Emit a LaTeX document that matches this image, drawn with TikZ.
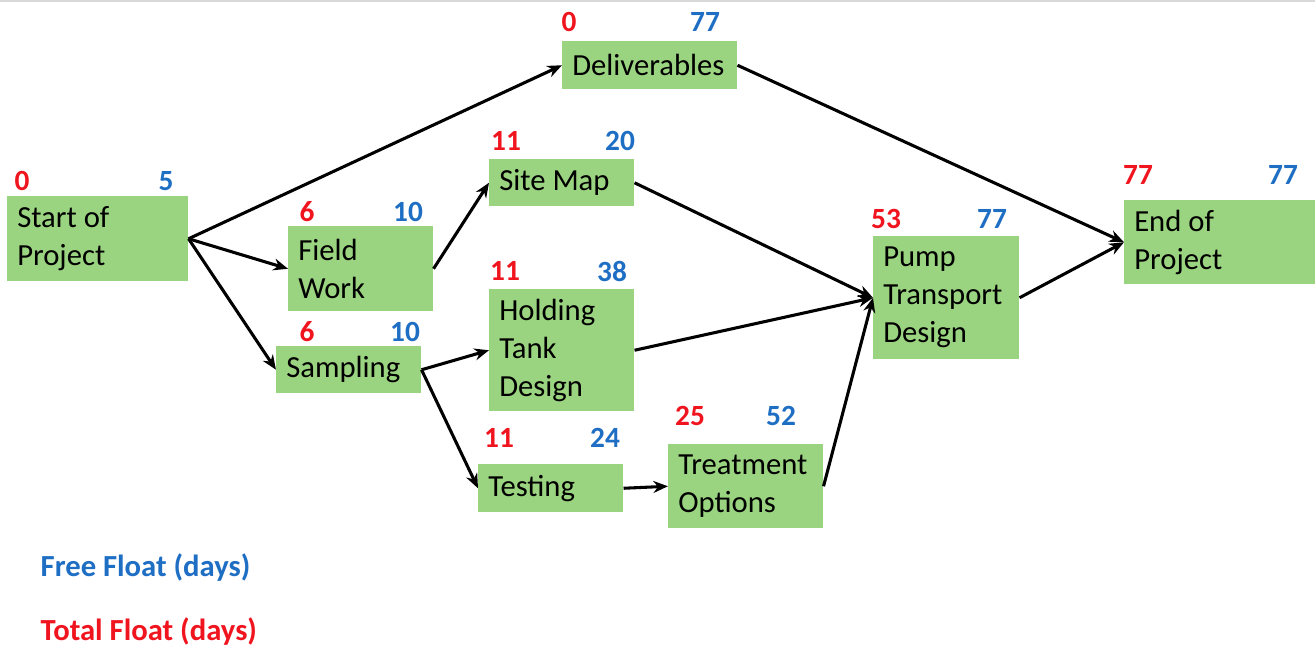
\documentclass[tikz,border=0pt]{standalone}
\usepackage{fontspec}
\setmainfont{Carlito}
\usetikzlibrary{arrows.meta}

\definecolor{boxgreen}{RGB}{155,212,128}
\definecolor{tfred}{RGB}{240,20,30}
\definecolor{ffblue}{RGB}{30,110,196}

\tikzset{
  task/.style={rectangle, fill=boxgreen, anchor=north west, align=flush left,
    inner xsep=7.5pt, inner ysep=0pt,
    font=\fontsize{23}{28.5}\selectfont},
  tf/.style={text=tfred, font=\fontsize{22}{24}\selectfont\bfseries},
  ff/.style={text=ffblue, font=\fontsize{22}{24}\selectfont\bfseries},
  legend/.style={anchor=west, font=\fontsize{23}{26}\selectfont\bfseries},
  arc/.style={-{Stealth[length=11pt,width=9pt]}, line width=2.3pt}
}

\begin{document}
\begin{tikzpicture}[x=0.75pt, y=-0.75pt]
  \useasboundingbox (0,0) rectangle (1315,648);
  \draw[black!15, line width=2pt] (0,1) -- (1315,1);

  % Attivita
  \node[task, text width=120.75pt, minimum height=63.75pt] (start) at (7,196) {Start of\\Project};
  \node[task, text width=93.75pt, minimum height=63.75pt] (field) at (288,226) {Field\\Work};
  \node[task, text width=93.75pt, minimum height=35.25pt] (samp) at (276,346) {Sampling};
  \node[task, text width=116.25pt, minimum height=36pt] (deliv) at (562,41) {Deliverables};
  \node[task, text width=93.75pt, minimum height=35.25pt] (site) at (489,159) {Site Map};
  \node[task, text width=93.75pt, minimum height=91.5pt] (hold) at (489,289) {Holding\\Tank\\Design};
  \node[task, text width=93.75pt, minimum height=36pt] (test) at (478,464) {Testing};
  \node[task, text width=101.25pt, minimum height=63pt] (treat) at (668,444) {Treatment\\Options};
  \node[task, text width=94.5pt, minimum height=92.25pt] (pump) at (873,236) {Pump\\Transport\\Design};
  \node[task, text width=128.25pt, minimum height=63pt] (end) at (1124,200) {End of\\Project};

  % Float
  \node[tf] (startTF) at (22,181) {0};
  \node[ff] (startFF) at (166,181) {5};
  \node[tf] (fieldTF) at (307,212) {6};
  \node[ff] (fieldFF) at (408,212) {10};
  \node[tf] (sampTF) at (307,332) {6};
  \node[ff] (sampFF) at (405,332) {10};
  \node[tf] (delivTF) at (569,22) {0};
  \node[ff] (delivFF) at (705,22) {77};
  \node[tf] (siteTF) at (506,141) {11};
  \node[ff] (siteFF) at (620,141) {20};
  \node[tf] (holdTF) at (505,271) {11};
  \node[ff] (holdFF) at (612,271) {38};
  \node[tf] (testTF) at (499,438) {11};
  \node[ff] (testFF) at (605,438) {24};
  \node[tf] (treatTF) at (690,416) {25};
  \node[ff] (treatFF) at (781,416) {52};
  \node[tf] (pumpTF) at (886,219) {53};
  \node[ff] (pumpFF) at (992,219) {77};
  \node[tf] (endTF) at (1138,175) {77};
  \node[ff] (endFF) at (1283,175) {77};

  % Archi
  \draw[arc] (start.east) -- (deliv.west);
  \draw[arc] (start.east) -- (field.west);
  \draw[arc] (start.east) -- (samp.west);
  \draw[arc] (field.east) -- (site.west);
  \draw[arc] (samp.east) -- (hold.west);
  \draw[arc] (samp.east) -- (test.west);
  \draw[arc] (test.east) -- (treat.west);
  \draw[arc] (site.east) -- (pump.west);
  \draw[arc] (hold.east) -- (pump.west);
  \draw[arc] (treat.east) -- (pump.west);
  \draw[arc] (pump.east) -- (end.west);
  \draw[arc] (deliv.east) -- (end.west);

  % Legenda
  \node[legend, text=ffblue] (freefloat) at (36,568) {Free Float (days)};
  \node[legend, text=tfred] (totalfloat) at (36,632) {Total Float (days)};
\end{tikzpicture}
\end{document}
